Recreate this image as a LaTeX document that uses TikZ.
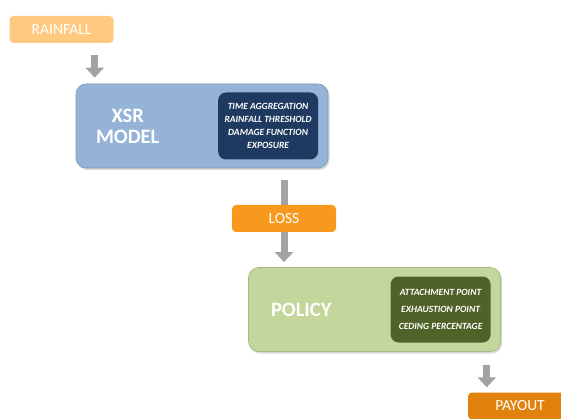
\documentclass[tikz,border=0pt]{standalone}
\usepackage{fontspec}
\setmainfont{Carlito}
\usetikzlibrary{arrows.meta,shadows,backgrounds}
\definecolor{rainc}{HTML}{FFC97F}
\definecolor{xsrc}{HTML}{95B3D7}
\definecolor{navyc}{HTML}{1F3A60}
\definecolor{lossc}{HTML}{F8981D}
\definecolor{polc}{HTML}{C3D69B}
\definecolor{olivec}{HTML}{4F6228}
\definecolor{payc}{HTML}{E2820E}
\definecolor{arrowc}{HTML}{A3A3A3}
\tikzset{
	smallbox/.style={rounded corners=4pt, minimum width=104pt, minimum height=27pt, inner sep=0pt,
		text=white, font=\fontsize{15.5}{17}\selectfont},
	bigbox/.style={rounded corners=10pt, minimum width=252pt, minimum height=84pt, inner sep=0pt,
		line width=0.6pt, drop shadow={opacity=0.3, shadow xshift=1.5pt, shadow yshift=-2pt}},
	bigname/.style={text=white, align=center, font=\fontsize{20.5}{21}\selectfont\bfseries},
	parbox/.style={rounded corners=8pt, minimum width=100pt, inner sep=0pt, anchor=east,
		text=white, align=center},
	flow/.style={draw=arrowc, line width=7pt, -{Triangle[width=18pt,length=10pt]}}
}
\begin{document}
\begin{tikzpicture}[x=1pt,y=-1pt]
	\useasboundingbox (0,0) rectangle (561,419);
	\clip (0,0) rectangle (561,419);
	% boxes
	\node[smallbox, fill=rainc] (rain) at (61.5,29.5) {RAINFALL};
	\node[bigbox, fill=xsrc, draw=xsrc!85!black] (xsr) at (202,126) {};
	\node[bigname] (xsrname) at ([xshift=52pt]xsr.west) {XSR\\MODEL};
	\node[parbox, fill=navyc, minimum height=67pt, font=\fontsize{9.5}{13}\selectfont\bfseries\itshape]
		(xsrpar) at ([xshift=-10pt]xsr.east)
		{TIME AGGREGATION\\RAINFALL THRESHOLD\\DAMAGE FUNCTION\\EXPOSURE};
	\node[smallbox, fill=lossc] (loss) at (284,218.5) {LOSS};
	\node[bigbox, fill=polc, draw=polc!85!black] (policy) at (374.5,309.5) {};
	\node[bigname] (polname) at ([xshift=53pt]policy.west) {POLICY};
	\node[parbox, fill=olivec, minimum height=66pt, font=\fontsize{9.5}{17}\selectfont\bfseries\itshape]
		(polpar) at ([xshift=-10pt]policy.east)
		{ATTACHMENT POINT\\EXHAUSTION POINT\\CEDING PERCENTAGE};
	\node[smallbox, fill=payc] (payout) at (520,406) {PAYOUT};
	% arrows
	\draw[flow] ([xshift=-19pt,yshift=-12pt]rain.south east) -- ([xshift=-19pt,yshift=6pt]rain.east |- xsr.north);
	\begin{pgfonlayer}{background}
		\draw[flow] ([yshift=-12pt]xsr.south -| loss.center) -- ([yshift=5pt]policy.north -| loss.center);
	\end{pgfonlayer}
	\draw[flow] ([xshift=19pt,yshift=-13pt]policy.south -| payout.west) -- ([xshift=19pt,yshift=5pt]payout.north west);
\end{tikzpicture}
\end{document}
